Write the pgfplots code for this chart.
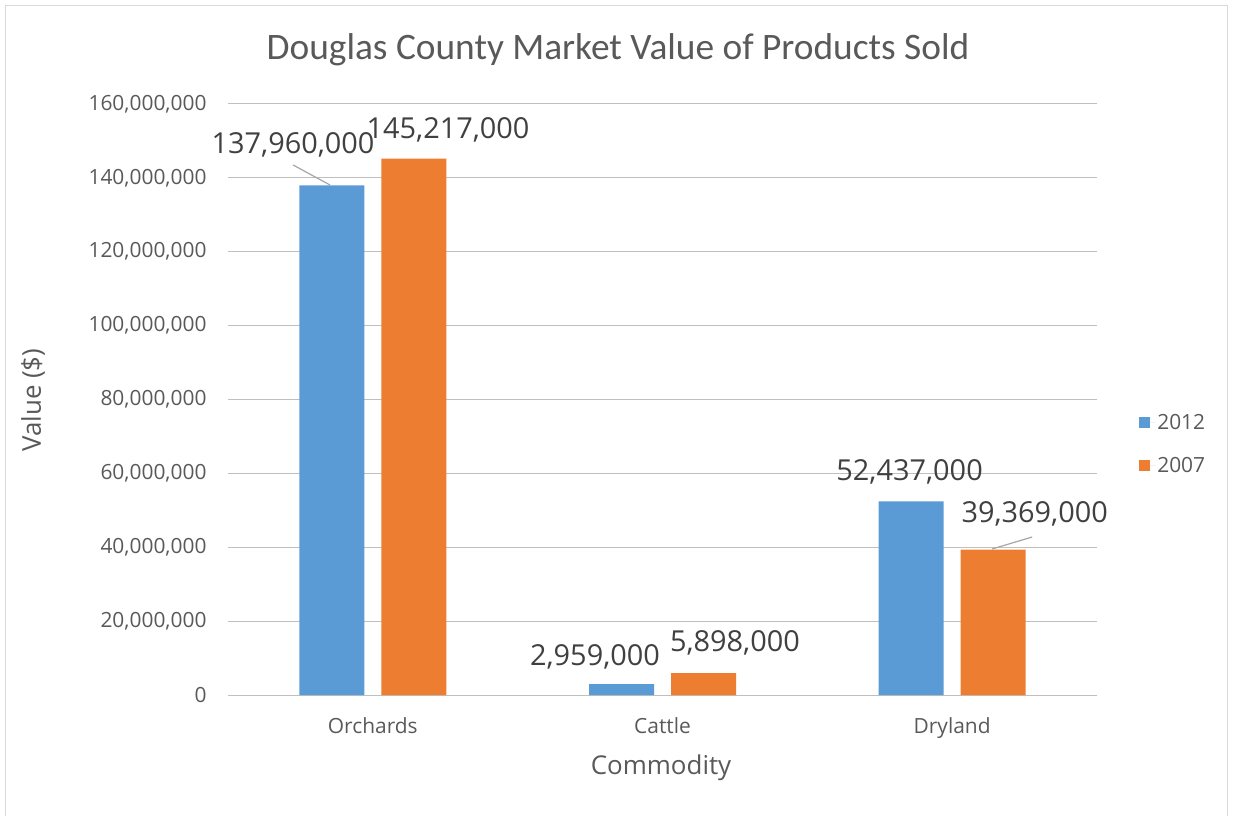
\documentclass[border=0pt]{standalone}
\usepackage{pgfplots}
\pgfplotsset{compat=1.18}
\usepackage{fontspec}
\setmainfont{Open Sans}
\newfontfamily\titlefont{Carlito}
\definecolor{cblue}{HTML}{5B9BD5}
\definecolor{corange}{HTML}{ED7D31}
\definecolor{txt}{HTML}{595959}
\definecolor{dlab}{HTML}{404040}
\definecolor{grid}{HTML}{D9D9D9}
\definecolor{leader}{HTML}{A6A6A6}
\begin{document}
\begin{tikzpicture}
\useasboundingbox (0,0) rectangle (1233bp,816bp);
\draw[grid, line width=1bp] (5.5bp,-5bp) -- (5.5bp,810.5bp) -- (1227.5bp,810.5bp) -- (1227.5bp,-5bp);
\begin{axis}[
  at={(228bp,121bp)}, anchor=south west,
  scale only axis, width=869bp, height=591bp,
  clip=false,
  ybar=17bp, bar width=65bp,
  xmin=-0.5, xmax=2.5, ymin=0, ymax=160000000,
  xtick={0,1,2}, xticklabels={Orchards,Cattle,Dryland},
  ytick={0,20000000,40000000,60000000,80000000,100000000,120000000,140000000,160000000},
  scaled y ticks=false,
  /pgf/number format/fixed, /pgf/number format/1000 sep={,}, /pgf/number format/assume math mode=true,
  ymajorgrids, xmajorgrids=false, grid style={grid, line width=1bp},
  axis line style={draw=none},
  axis x line*=bottom, axis y line*=left,
  major tick length=0pt, tick style={draw=none},
  tick label style={font=\fontsize{21}{24}\selectfont, text=txt},
  xticklabel style={yshift=-19bp},
  yticklabel style={xshift=-18bp},
  xlabel={Commodity}, ylabel={Value (\$)},
  label style={font=\fontsize{26}{30}\selectfont, text=txt},
  xlabel style={at={(0.4983,-0.1235)}, anchor=center},
  ylabel style={at={(-0.2244,0.499)}, anchor=center},
  title={\titlefont Douglas County Market Value of Products Sold},
  title style={font=\fontsize{37.5}{42}\selectfont, text=txt, at={(0.4488,1.081)}, anchor=center},
  legend style={at={(1.045,0.4247)}, anchor=west, draw=none, font=\fontsize{21}{24}\selectfont, text=txt, row sep=23bp},
  legend image code/.code={\fill[#1] (0bp,-5.5bp) rectangle (11bp,5.5bp); \path (0bp,0bp) -- (16bp,0bp);},
  legend cell align=left,
]
\addplot[fill=cblue, draw=none] coordinates {(0,137960000) (1,2959000) (2,52437000)};
\addplot[fill=corange, draw=none] coordinates {(0,145217000) (1,5898000) (2,39369000)};
\legend{2012,2007}
\draw[leader, line width=1.2bp] (axis cs:-0.2755,143500000) -- (axis cs:-0.1477,138060000);
\draw[leader, line width=1.2bp] (axis cs:2.1377,39520000) -- (axis cs:2.276,42770000);
\begin{scope}[every node/.style={font=\fontsize{29}{33}\selectfont, text=dlab, anchor=center, inner sep=0pt}]
\node at (axis cs:-0.2755,148900000) {137,960,000};
\node at (axis cs:0.2596,152950000) {145,217,000};
\node at (axis cs:0.767,10290000) {2,959,000};
\node at (axis cs:1.250,14080000) {5,898,000};
\node at (axis cs:1.853,60370000) {52,437,000};
\node at (axis cs:2.2849,49000000) {39,369,000};
\end{scope}
\end{axis}
\end{tikzpicture}
\end{document}
